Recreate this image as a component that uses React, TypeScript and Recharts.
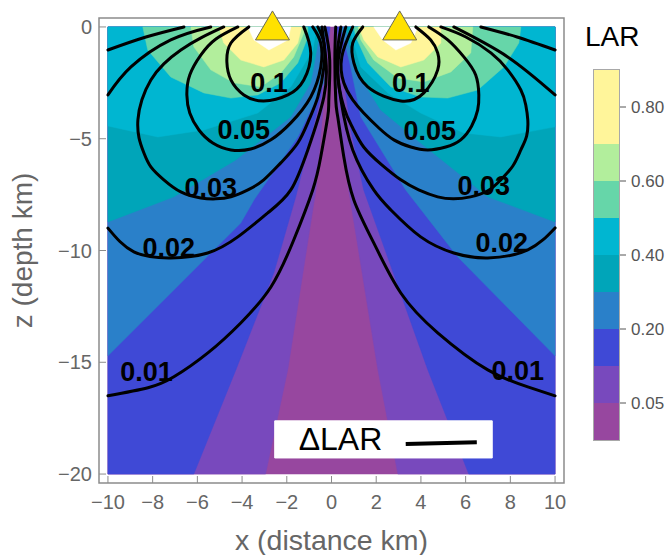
import { Bar, BarChart, LabelList, ReferenceArea, Scatter, ScatterChart, XAxis, YAxis } from "recharts";

type Pt = [number, number];

const FONT = '"Liberation Sans", Arial, sans-serif';

const xTicks = [-10, -8, -6, -4, -2, 0, 2, 4, 6, 8, 10];
const zTicks = [0, -5, -10, -15, -20];

// filled bands, [x km, z km], painted back to front
const magenta: Pt[] = [[-10, 0], [10, 0], [10, -20], [-10, -20]];
const violetL: Pt[] = [[-0.05, 0], [-0.7, -7.3], [-1.95, -15.3], [-2.95, -20], [-10, -20], [-10, 0]];
const violetR: Pt[] = [[0.1, 0], [0.24, -3.26], [0.77, -7.3], [2.07, -15.3], [2.97, -20], [10, -20], [10, 0]];
const blueL: Pt[] = [[-0.08, 0], [-0.48, -3.13], [-1.6, -7.6], [-2.58, -11], [-4.28, -15.34], [-6.16, -20], [-10, -20], [-10, 0]];
const blueR: Pt[] = [[0.24, 0], [0.86, -4.6], [1.44, -7.29], [4.31, -15.34], [6.14, -20], [10, -20], [10, 0]];
const steelL: Pt[] = [[-0.3, 0], [-0.34, -2.5], [-1.51, -4.92], [-3.47, -7.74], [-4.06, -8.77], [-5.71, -10.42], [-10, -14.71], [-10, 0]];
const steelR: Pt[] = [[0.42, 0], [0.86, -1.79], [1.31, -4.02], [3.32, -7.29], [5.65, -10.29], [10, -14.71], [10, 0]];
const tealL: Pt[] = [[-0.48, 0], [-0.93, -2.5], [-1.82, -4.02], [-4.28, -5.95], [-7.05, -7.6], [-10, -8.72], [-10, 0]];
const tealR: Pt[] = [[0.64, 0], [1, -1.79], [2.2, -3.71], [3.99, -5.19], [6.99, -7.6], [10, -8.72], [10, 0]];
const cyanL: Pt[] = [[-0.66, 0], [-0.84, -1.03], [-1.82, -2.68], [-3.3, -3.85], [-5.71, -4.61], [-7.77, -4.92], [-10, -4.43], [-10, 0]];
const cyanR: Pt[] = [[0.77, 0], [1.31, -1.79], [2.52, -2.95], [3.99, -3.85], [5.92, -4.74], [7.57, -4.92], [10, -4.47], [10, 0]];
const greenL: Pt[] = [[-8.44, 0], [-8.22, -1.03], [-7.19, -2.24], [-5.71, -2.95], [-4.5, -3.18], [-3.3, -3.04], [-2.27, -2.5], [-1.51, -1.61], [-1.06, -0.45], [-1.06, 0]];
const greenR: Pt[] = [[1, 0], [1.09, -0.45], [1.62, -1.61], [2.65, -2.68], [3.99, -3.13], [5.2, -3.18], [6.54, -2.82], [7.71, -1.79], [8.38, -0.72], [8.47, 0]];
const lightL: Pt[] = [[-6.29, 0], [-6.16, -0.89], [-5.4, -1.92], [-4.37, -2.5], [-3.16, -2.68], [-2.27, -2.06], [-1.69, -1.34], [-1.24, -0.27], [-1.24, 0]];
const lightR: Pt[] = [[1.18, 0], [1.31, -0.58], [1.89, -1.48], [2.97, -2.28], [4.13, -2.46], [5.34, -2.01], [6.23, -1.16], [6.32, 0]];
const yellowL: Pt[] = [[-5.04, 0], [-4.82, -0.72], [-4.06, -1.48], [-3.03, -1.79], [-2.13, -1.48], [-1.51, -0.72], [-1.33, 0]];
const yellowR: Pt[] = [[1.22, 0], [1.45, -0.58], [2.07, -1.34], [3.1, -1.79], [4.13, -1.48], [4.89, -0.72], [4.89, 0]];
const whiteL: Pt[] = [[-3.74, 0], [-3.47, -0.58], [-2.8, -1.03], [-1.95, -0.58], [-1.82, 0]];
const whiteR: Pt[] = [[1.89, 0], [2.29, -0.58], [2.88, -1.03], [3.55, -0.72], [3.86, 0]];

// contour lines of delta LAR
const c10L: Pt[] = [[-1.24, 0], [-0.93, -1.16], [-1.24, -2.37], [-1.95, -3.04], [-3.03, -3.31], [-3.92, -3.04], [-4.5, -2.37], [-4.68, -1.57], [-4.5, -0.72], [-3.7, 0]];
const c10R: Pt[] = [[1.4, 0], [0.95, -0.72], [1, -1.61], [1.62, -2.68], [3.1, -3.31], [4.13, -2.95], [4.75, -1.92], [4.75, -1.16], [4.44, -0.58], [3.77, 0]];
const c05L: Pt[] = [[-0.84, 0], [-0.48, -0.72], [-0.48, -1.79], [-0.93, -3.13], [-1.82, -4.29], [-2.71, -5.05], [-3.61, -5.46], [-4.5, -5.5], [-5.31, -5.19], [-5.93, -4.61], [-6.34, -3.85], [-6.47, -3.04], [-6.34, -2.15], [-5.84, -1.25], [-5.17, -0.54], [-4.19, 0]];
const c05R: Pt[] = [[0.95, 0], [0.46, -1.34], [0.55, -2.5], [0.95, -3.26], [1.44, -3.85], [2.12, -4.52], [2.79, -5.05], [3.55, -5.37], [4.31, -5.5], [5.11, -5.37], [5.78, -5.05], [6.27, -4.43], [6.54, -3.71], [6.59, -3.04], [6.45, -2.15], [5.92, -1.34], [5.2, -0.58], [4.35, 0]];
const c03L: Pt[] = [[-0.61, 0], [-0.34, -0.72], [-0.34, -1.79], [-0.61, -3.13], [-1.01, -4.16], [-1.51, -5.19], [-2.27, -6.08], [-3.03, -6.84], [-3.74, -7.29], [-4.5, -7.6], [-5.17, -7.69], [-5.85, -7.65], [-6.74, -7.38], [-7.5, -6.84], [-8.08, -6.26], [-8.39, -5.64], [-8.61, -4.96], [-8.66, -4.16], [-8.48, -3.26], [-8.08, -2.37], [-7.5, -1.65], [-6.74, -1.03], [-5.84, -0.49], [-4.82, 0]];
const c03R: Pt[] = [[0.64, 0], [0.28, -1.79], [0.55, -3.58], [0.95, -4.52], [1.44, -5.37], [2.25, -6.17], [3.1, -6.84], [3.9, -7.29], [4.75, -7.6], [5.47, -7.69], [6.22, -7.6], [6.99, -7.33], [7.57, -6.84], [8.11, -6.22], [8.47, -5.5], [8.73, -4.87], [8.78, -4.16], [8.69, -3.49], [8.47, -2.82], [7.88, -1.92], [7.13, -1.16], [6.01, -0.45], [4.89, 0]];
const c02LUpper: Pt[] = [[-5.4, 0], [-7.19, -0.58], [-8.97, -1.79], [-10, -3.04]];
const c02LLower: Pt[] = [[-10, -9], [-8.84, -10.06], [-7.19, -10.33], [-5.54, -10.11], [-4.19, -9.39], [-2.85, -8.32], [-1.82, -7.29], [-1.06, -5.5], [-0.34, -3.13], [-0.25, -1.48], [-0.43, 0]];
const c02RUpper: Pt[] = [[5.47, 0], [7.88, -1.34], [10, -3.04]];
const c02RLower: Pt[] = [[0.42, 0], [0.24, -1.48], [0.42, -3.26], [0.95, -5.5], [1.89, -7.29], [2.65, -8.18], [3.99, -9.39], [5.47, -10.11], [6.99, -10.33], [8.78, -9.97], [10, -8.99]];
const c01LUpper: Pt[] = [[-6.6, 0], [-8.3, -0.45], [-10, -1.03]];
const c01LLower: Pt[] = [[-10, -16.5], [-8.21, -16.14], [-7.05, -15.65], [-5.53, -14.58], [-4.06, -13.24], [-2.71, -11.63], [-1.69, -9.53], [-0.84, -7.29], [-0.48, -5.81], [-0.17, -4.03], [-0.12, -3.26], [-0.08, -1.48], [-0.3, 0]];
const c01RUpper: Pt[] = [[6.68, 0], [8.3, -0.45], [10, -1.03]];
const c01RLower: Pt[] = [[0.19, 0], [0.15, -1.48], [0.19, -3.26], [0.28, -4.03], [0.55, -5.81], [1, -7.74], [1.89, -9.66], [3.1, -11.9], [4.75, -13.68], [6.99, -15.34], [8.78, -16.1], [10, -16.5]];

const contourLabels = [
  { x: -2.8, z: -2.5, text: "0.1" },
  { x: 3.55, z: -2.5, text: "0.1" },
  { x: -3.92, z: -4.6, text: "0.05" },
  { x: 4.4, z: -4.65, text: "0.05" },
  { x: -5.4, z: -7.16, text: "0.03" },
  { x: 6.81, z: -7.11, text: "0.03" },
  { x: -7.28, z: -9.84, text: "0.02" },
  { x: 7.62, z: -9.66, text: "0.02" },
  { x: -8.27, z: -15.43, text: "0.01" },
  { x: 8.33, z: -15.38, text: "0.01" },
];

const stations = [{ x: -2.64, z: 0.09 }, { x: 3.05, z: 0.09 }];

const keyBox: Pt[] = [[-2.54, -17.62], [7.19, -17.62], [7.19, -19.28], [-2.54, -19.28]];
const keySample: Pt[] = [[3.32, -18.65], [6.5, -18.58]];
const keyText = [{ x: 0.4, z: -18.4, text: "ΔLAR" }];

// colour scale: steps from bottom to top
const scaleSteps = [1, 1, 1, 1, 1, 1, 1, 1, 2];
const scaleColors = ["#97479f", "#7849bd", "#3f49d6", "#2a80c9", "#00a5b9", "#00b6d1", "#66d6a9", "#b2ee9c", "#fff59a"];
const scaleTicks = [1, 3, 5, 7, 9];
const scaleTickLabels = ["0.05", "0.20", "0.40", "0.60", "0.80"];

const scaleRow = [Object.fromEntries(scaleSteps.map((v, i) => ["s" + i, v]))];

const bands: [Pt[], string][] = [
  [magenta, scaleColors[0]],
  [violetL, scaleColors[1]],
  [violetR, scaleColors[1]],
  [blueL, scaleColors[2]],
  [blueR, scaleColors[2]],
  [steelL, scaleColors[3]],
  [steelR, scaleColors[3]],
  [tealL, scaleColors[4]],
  [tealR, scaleColors[4]],
  [cyanL, scaleColors[5]],
  [cyanR, scaleColors[5]],
  [greenL, scaleColors[6]],
  [greenR, scaleColors[6]],
  [lightL, scaleColors[7]],
  [lightR, scaleColors[7]],
  [yellowL, scaleColors[8]],
  [yellowR, scaleColors[8]],
  [whiteL, "#ffffff"],
  [whiteR, "#ffffff"],
];

const contours: Pt[][] = [
  c10L, c10R, c05L, c05R, c03L, c03R,
  c02LUpper, c02LLower, c02RUpper, c02RLower,
  c01LUpper, c01LLower, c01RUpper, c01RLower,
];

const toRows = (pts: Pt[]) => pts.map(([x, z]) => ({ x, z }));
const NoPoint = () => null;
const minus = (v: number) => String(v).replace("-", "\u2212");

function XTick({ x, y, payload }: any) {
  return (
    <g>
      <line x1={x} x2={x} y1={y} y2={y - 7} stroke="#8c8c8c" strokeWidth={1} />
      <text x={x} y={y + 26} textAnchor="middle" fontSize={20} fill="#666" fontFamily={FONT}>
        {minus(payload.value)}
      </text>
    </g>
  );
}

function YTick({ x, y, payload }: any) {
  return (
    <g>
      <line x1={x} x2={x + 7} y1={y} y2={y} stroke="#8c8c8c" strokeWidth={1} />
      <text x={x - 7} y={y + 7} textAnchor="end" fontSize={20} fill="#666" fontFamily={FONT}>
        {minus(payload.value)}
      </text>
    </g>
  );
}

function Triangle({ cx, cy }: any) {
  return (
    <polygon
      points={`${cx},${cy - 14} ${cx + 17},${cy + 15} ${cx - 17},${cy + 15}`}
      fill="#ffe100"
      stroke="#6b6b50"
      strokeWidth={1}
    />
  );
}

export default function App() {
  return (
    <div style={{ position: "absolute", left: 0, top: 0, width: 667, height: 555, background: "#fff" }}>
      <ScatterChart width={667} height={555} margin={{ top: 18, right: 103, bottom: 0, left: 0 }}>
        <XAxis
          type="number"
          dataKey="x"
          domain={[-10.4, 10.4]}
          ticks={xTicks}
          interval={0}
          height={72}
          axisLine={false}
          tickLine={false}
          tickSize={0}
          tickMargin={0}
          tick={XTick}
          label={{ value: "x (distance km)", position: "insideBottom", offset: 5, fontSize: 28.5, fill: "#666", fontFamily: FONT }}
        />
        <YAxis
          type="number"
          dataKey="z"
          domain={[-20.4, 0.4]}
          ticks={zTicks}
          interval={0}
          width={99}
          axisLine={false}
          tickLine={false}
          tickSize={0}
          tickMargin={0}
          tick={YTick}
          label={{ value: "z (depth km)", angle: -90, position: "insideLeft", offset: 22, fontSize: 28, fill: "#666", fontFamily: FONT, style: { textAnchor: "middle" } }}
        />
        <ReferenceArea x1={-10.4} x2={10.4} y1={-20.4} y2={0.4} fill="none" stroke="#8c8c8c" strokeWidth={1.5} />
        {bands.map(([pts, color], i) => (
          <Scatter
            key={"band" + i}
            data={toRows(pts)}
            shape={NoPoint}
            line={{ fill: color, stroke: color, strokeWidth: 0.5 }}
            lineJointType="linearClosed"
            isAnimationActive={false}
          />
        ))}
        {contours.map((pts, i) => (
          <Scatter
            key={"contour" + i}
            data={toRows(pts)}
            shape={NoPoint}
            line={{ stroke: "#000", strokeWidth: 3, strokeLinecap: "round" }}
            lineJointType="natural"
            isAnimationActive={false}
          />
        ))}
        <Scatter data={contourLabels} shape={NoPoint} isAnimationActive={false}>
          <LabelList dataKey="text" position="center" fill="#000" fontSize={27} fontWeight="bold" fontFamily={FONT} />
        </Scatter>
        <Scatter
          data={toRows(keyBox)}
          shape={NoPoint}
          line={{ fill: "#fff", stroke: "#fff" }}
          lineJointType="linearClosed"
          isAnimationActive={false}
        />
        <Scatter
          data={toRows(keySample)}
          shape={NoPoint}
          line={{ stroke: "#000", strokeWidth: 4 }}
          lineJointType="linear"
          isAnimationActive={false}
        />
        <Scatter data={keyText} shape={NoPoint} isAnimationActive={false}>
          <LabelList dataKey="text" position="center" fill="#000" fontSize={32} fontFamily={FONT} />
        </Scatter>
        <Scatter data={stations} shape={Triangle} isAnimationActive={false} />
      </ScatterChart>

      <div style={{ position: "absolute", left: 585, top: 21, fontFamily: FONT, fontSize: 28, lineHeight: "32px", color: "#000" }}>
        LAR
      </div>
      <div style={{ position: "absolute", left: 570, top: 60 }}>
        <BarChart
          width={97}
          height={390}
          data={scaleRow}
          barCategoryGap={0}
          margin={{ top: 10, right: 0, bottom: 10, left: 24 }}
        >
          <XAxis hide />
          <YAxis
            orientation="right"
            type="number"
            domain={[0, 10]}
            ticks={scaleTicks}
            interval={0}
            width={48}
            axisLine={false}
            tickSize={7}
            tickMargin={5}
            tickLine={{ stroke: "#555" }}
            tick={{ fontSize: 17, fill: "#555", fontFamily: FONT }}
            tickFormatter={(v: number) => scaleTickLabels[scaleTicks.indexOf(v)]}
          />
          {scaleSteps.map((_, i) => (
            <Bar key={i} dataKey={"s" + i} stackId="scale" fill={scaleColors[i]} isAnimationActive={false} />
          ))}
        </BarChart>
      </div>
      <div style={{ position: "absolute", left: 593, top: 69, width: 25, height: 370, border: "1px solid #a8a8a8" }} />
    </div>
  );
}
